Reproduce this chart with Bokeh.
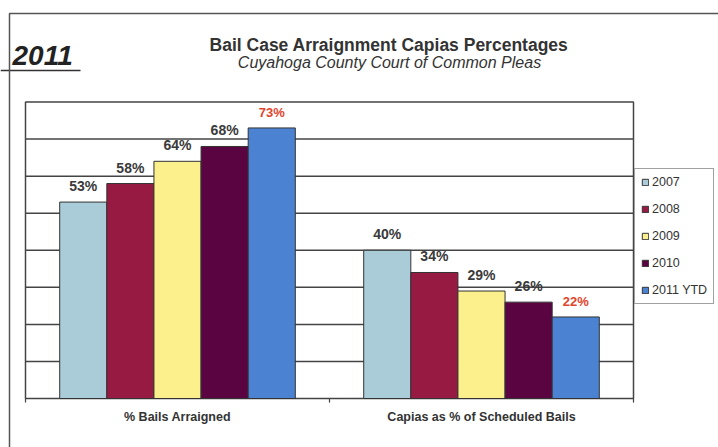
from bokeh.plotting import figure
from bokeh.models import ColumnDataSource, Range1d, Legend, LegendItem
from bokeh.core.properties import value
from bokeh.embed import file_html
from bokeh.resources import INLINE

# ---- data ----
categories = ["% Bails Arraigned", "Capias as % of Scheduled Bails"]
years = ["2007", "2008", "2009", "2010", "2011 YTD"]
v2007 = [53, 40]
v2008 = [58, 34]
v2009 = [64, 29]
v2010 = [68, 26]
v2011 = [73, 22]
series = [v2007, v2008, v2009, v2010, v2011]
grid_ticks = [10, 20, 30, 40, 50, 60, 70]
y_max = 80

colors = ["#A9CCD8", "#971A43", "#FCF08C", "#5A0442", "#4C82D2"]
label_colors = ["#3a3a3a", "#3a3a3a", "#3a3a3a", "#3a3a3a", "#E2442C"]
label_sizes = ["14px", "14px", "14px", "14px", "13px"]

title_text = "Bail Case Arraignment Capias Percentages"
subtitle_text = "Cuyahoga County Court of Common Pleas"
corner_text = "2011"

FONT = "Liberation Sans"

# ---- layout (pixels of the 718x447 canvas) ----
W, H = 718, 447
PLOT_L, PLOT_R, PLOT_B, PLOT_T = 25, 633, 398, 101.5
ux = (PLOT_R - PLOT_L) / len(categories)      # px per category unit
uy = (PLOT_B - PLOT_T) / y_max                # px per percent


def X(px):
    return (px - PLOT_L) / ux


def Y(py):
    return (PLOT_B - py) / uy


p = figure(width=W, height=H, x_range=Range1d(X(0), X(W)), y_range=Range1d(Y(H), Y(0)),
           output_backend="svg", toolbar_location=None, min_border=0)
p.axis.visible = False
p.grid.visible = False
p.background_fill_color = "white"
p.border_fill_color = "white"
p.outline_line_color = None

LINE = "#444444"

# grid lines
p.segment(x0=0, x1=len(categories), y0=grid_ticks, y1=grid_ticks,
          line_color=LINE, line_width=1.5)
# plot area box
p.quad(left=0, right=len(categories), bottom=0, top=y_max,
       fill_color=None, line_color=LINE, line_width=1.5)
# category boundary tick marks
bx = list(range(len(categories) + 1))
p.segment(x0=bx, x1=bx, y0=0, y1=-1.1, line_color=LINE, line_width=1.2)

# bars + value labels
bar_w = 0.155
centers = [i + 0.5 for i in range(len(categories))]
renderers = []
for i, (yr, vals) in enumerate(zip(years, series)):
    off = (i - 2) * bar_w
    src = ColumnDataSource(dict(x=[c + off for c in centers], val=vals,
                                txt=[f"{v}%" for v in vals]))
    r = p.vbar(x="x", top="val", width=bar_w, source=src,
               fill_color=colors[i], line_color="#333333", line_width=1)
    renderers.append(r)
    p.text(x="x", y="val", text="txt", source=src, y_offset=-8,
           text_align="center", text_baseline="bottom",
           text_font=value(FONT), text_font_style="bold", text_font_size=label_sizes[i],
           text_color=label_colors[i])

# category labels (x axis)
p.text(x=centers, y=[0] * len(categories), text=categories, y_offset=11,
       text_align="center", text_baseline="top",
       text_font=value(FONT), text_font_style="bold", text_font_size="12.5px",
       text_color="#333333")

# legend
legend = Legend(items=[LegendItem(label=y, renderers=[r]) for y, r in zip(years, renderers)],
                location=(634, H - 304), orientation="vertical",
                border_line_color=LINE, border_line_width=1.2,
                background_fill_color="white", background_fill_alpha=1,
                padding=6, spacing=13, margin=0,
                label_height=14, glyph_height=8, glyph_width=8, label_standoff=3,
                label_text_font=FONT, label_text_font_size="12.5px",
                label_text_color="#333333")
p.add_layout(legend, "center")

# titles
p.text(x=[X(388.5)], y=[Y(44)], text=[title_text], text_align="center",
       text_baseline="middle", text_font=value(FONT), text_font_style="bold",
       text_font_size="17.5px", text_color="#333333")
p.text(x=[X(389)], y=[Y(61.5)], text=[subtitle_text], text_align="center",
       text_baseline="middle", text_font=value(FONT), text_font_style="italic",
       text_font_size="16px", text_color="#333333")
p.text(x=[X(12)], y=[Y(54.5)], text=[corner_text], text_align="left",
       text_baseline="middle", text_font=value(FONT), text_font_style="bold italic",
       text_font_size="28px", text_color="#222222")

# page decoration lines
p.line(x=[X(0), X(80)], y=[Y(70), Y(70)], line_color="#333333", line_width=1.5)
p.line(x=[X(9), X(9), X(W)], y=[Y(H), Y(13), Y(13)], line_color="#555555", line_width=1.5)

open("out.html", "w").write(file_html(p, INLINE))
